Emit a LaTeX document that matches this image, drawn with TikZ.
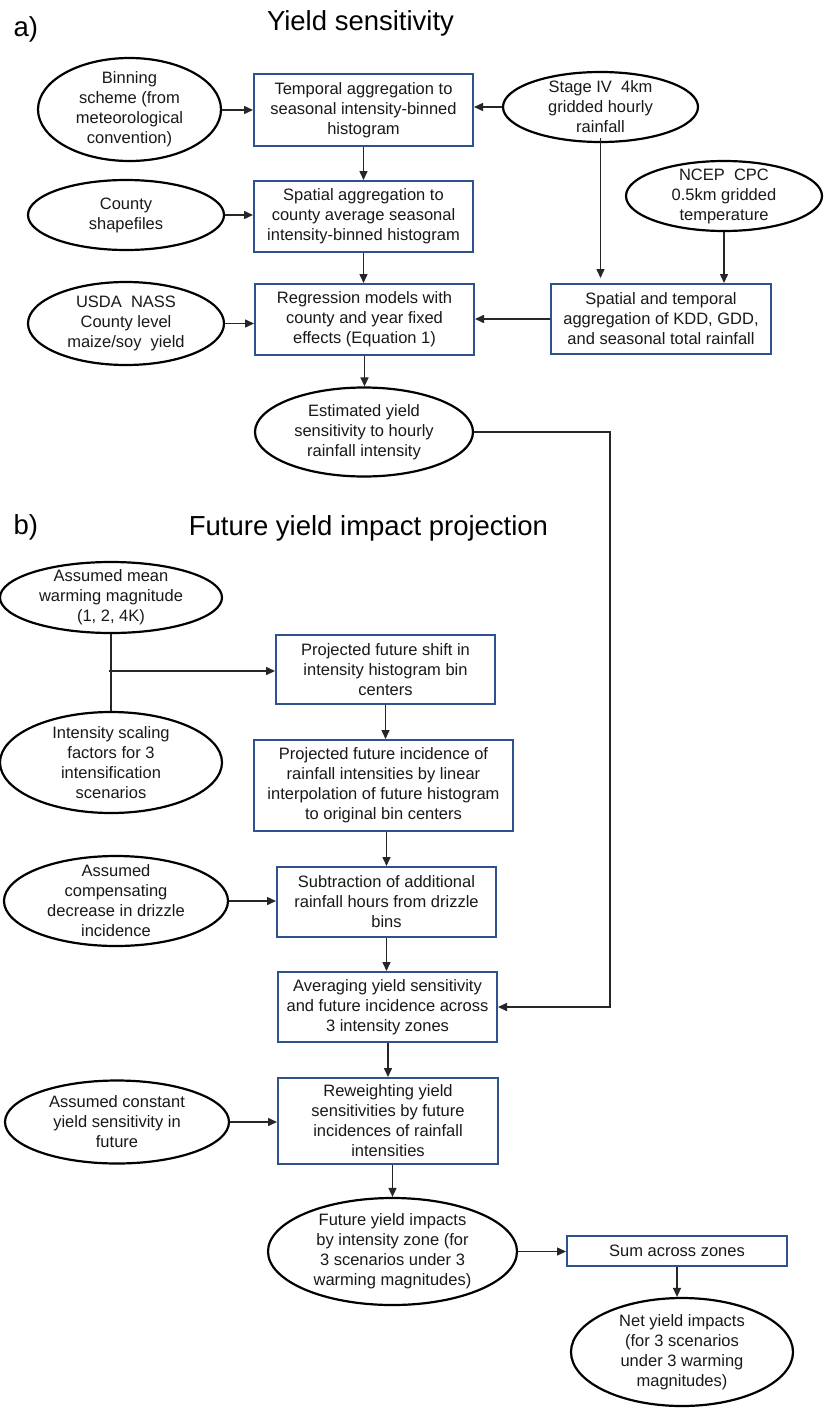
\documentclass[tikz,border=0pt]{standalone}
\usepackage{fontspec}
\setmainfont{Liberation Sans}
\usetikzlibrary{shapes.geometric,arrows.meta}
\definecolor{boxblue}{RGB}{47,82,143}
\definecolor{txt}{RGB}{25,25,25}
\begin{document}
\begin{tikzpicture}[x=1pt,y=-1pt,
  every node/.style={font=\fontsize{16.5}{20}\selectfont, text=txt},
  ell/.style={ellipse, draw=black, line width=2.2pt, inner sep=-25pt, align=center},
  box/.style={rectangle, draw=boxblue, line width=2pt, inner sep=2pt, align=center},
  arr/.style={-{Triangle[length=9pt,width=8pt]}, line width=1.5pt, draw=black!85},
  ln/.style={line width=1.5pt, draw=black!85},
  ttl/.style={font=\fontsize{27.5}{33}\selectfont, anchor=base, text=black}]
\useasboundingbox[fill=white] (0,0) rectangle (825,1416);

% titles
\node[ttl, anchor=base west] (la) at (10,36) {a)};
\node[ttl] (ta) at (360.5,30) {Yield sensitivity};
\node[ttl, anchor=base west] (lb) at (10,534) {b)};
\node[ttl] (tb) at (368.5,535) {Future yield impact projection};

% part a
\node[ell, minimum width=183, minimum height=103] (bin) at (129.5,109.5) {Binning\\scheme (from\\meteorological\\convention)};
\node[box, minimum width=219, minimum height=72] (tmp) at (363.5,110) {Temporal aggregation to\\seasonal intensity-binned\\histogram};
\node[ell, minimum width=195, minimum height=70] (s4) at (600.5,107) {Stage IV\ \ 4km\\gridded hourly\\rainfall};
\node[ell, minimum width=196, minimum height=70] (cty) at (126,215) {County\\shapefiles};
\node[box, minimum width=219, minimum height=71] (spa) at (363.5,216.5) {Spatial aggregation to\\county average seasonal\\intensity-binned histogram};
\node[ell, minimum width=196, minimum height=70] (ncep) at (724,196) {NCEP\ \ CPC\\0.5km gridded\\temperature};
\node[ell, minimum width=196, minimum height=83] (usda) at (126,323.5) {USDA\ \ NASS\\County level\\maize/soy\ \ yield};
\node[box, minimum width=219, minimum height=71] (reg) at (364.5,319.5) {Regression models with\\county and year fixed\\effects (Equation 1)};
\node[box, minimum width=220, minimum height=70] (stb) at (661,319) {Spatial and temporal\\aggregation of KDD,\ GDD,\\and seasonal total rainfall};
\node[ell, minimum width=218, minimum height=89] (est) at (364,432) {Estimated yield\\sensitivity to hourly\\rainfall intensity};

% part b
\node[ell, minimum width=222, minimum height=71] (am) at (111,597.5) {Assumed mean\\warming magnitude\\(1, 2, 4K)};
\node[box, minimum width=219, minimum height=69] (ps) at (385.5,669.5) {Projected future shift in\\intensity histogram bin\\centers};
\node[ell, minimum width=222, minimum height=101] (isf) at (111,762.5) {Intensity scaling\\factors for 3\\intensification\\scenarios};
\node[box, minimum width=259, minimum height=91] (pinc) at (383.5,785.5) {Projected future incidence of\\rainfall intensities by linear\\interpolation of future histogram\\to original bin centers};
\node[ell, minimum width=224, minimum height=90] (comp) at (116,901) {Assumed\\compensating\\decrease in drizzle\\incidence};
\node[box, minimum width=219, minimum height=70] (sub) at (386.5,902) {Subtraction of additional\\rainfall hours from drizzle\\bins};
\node[box, minimum width=219, minimum height=70] (avg) at (387.5,1007) {Averaging yield sensitivity\\and future incidence across\\3 intensity zones};
\node[ell, minimum width=224, minimum height=83] (con) at (117,1122) {Assumed constant\\yield sensitivity in\\future};
\node[box, minimum width=220, minimum height=86] (rew) at (388,1121) {Reweighting yield\\sensitivities by future\\incidences of rainfall\\intensities};
\node[ell, minimum width=249, minimum height=107] (fut) at (392.5,1251.5) {Future yield impacts\\by intensity zone (for\\3 scenarios under 3\\warming magnitudes)};
\node[box, minimum width=220, minimum height=30] (sum) at (677,1251) {Sum across zones};
\node[ell, minimum width=222, minimum height=108] (net) at (682,1352) {Net yield impacts\\(for 3 scenarios\\under 3 warming\\magnitudes)};

\coordinate (rx) at (610,433);
\coordinate (jn) at (109,671);

% connectors part a
\draw[arr] (bin.east |- tmp.west) -- (tmp.west);
\draw[arr] (s4.west) -- (s4.west -| tmp.east);
\draw[arr] (tmp.south) -- (tmp.south |- spa.north);
\draw[arr] (cty.east) -- (cty.east -| spa.west);
\draw[arr] (spa.south) -- (spa.south |- reg.north);
\draw[arr] (usda.east) -- (usda.east -| reg.west);
\draw[arr] ([yshift=5pt]s4.south) -- ([yshift=5pt]s4.south |- stb.north);
\draw[arr] (ncep.south) -- (ncep.south |- stb.north);
\draw[arr] (stb.west) -- (stb.west -| reg.east);
\draw[arr] (reg.south) -- (reg.south |- est.north);
\draw[arr] (est.east) -- (est.east -| rx) |- (avg.east);

% connectors part b
\draw[ln] (am.south) -- (am.south |- isf.north);
\draw[arr] (jn) -- (jn -| ps.west);
\draw[arr] (ps.south) -- (ps.south |- pinc.north);
\draw[arr] (sub.north |- pinc.south) -- (sub.north);
\draw[arr] (comp.east) -- (comp.east -| sub.west);
\draw[arr] (sub.south) -- (sub.south |- avg.north);
\draw[arr] (rew.north |- avg.south) -- (rew.north);
\draw[arr] (con.east) -- (con.east -| rew.west);
\draw[arr] (fut.north |- rew.south) -- (fut.north);
\draw[arr] (fut.east) -- (fut.east -| sum.west);
\draw[arr] (sum.south) -- (sum.south |- net.north);
\end{tikzpicture}
\end{document}
